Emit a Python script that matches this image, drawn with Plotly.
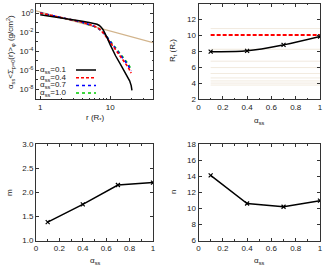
import plotly.graph_objects as go
import numpy as np

W, H = 335, 268

# ---- data ----
alpha = [0.1, 0.4, 0.7, 1.0]
alpha_labels = ["0.1", "0.4", "0.7", "1.0"]

r_01 = [1, 1.5, 2, 3, 4, 5, 6, 6.5, 7, 7.5, 8, 8.5, 9, 10, 11, 12, 14, 16, 18, 19, 20, 20.5]
s_01 = [-0.18, -0.36, -0.5, -0.7, -0.85, -0.98, -1.1, -1.18, -1.3, -1.5, -1.8, -2.15, -2.55, -3.3, -3.95, -4.5, -5.35, -6.05, -6.7, -7.1, -7.6, -8.1]
r_c = [1, 1.5, 2, 3, 4, 5, 6, 7, 7.5, 8, 9, 10, 12, 14, 16, 18, 20]
s_04 = [0.0, -0.25, -0.45, -0.75, -0.95, -1.15, -1.38, -1.65, -1.85, -2.1, -2.6, -3.05, -3.8, -4.45, -5.05, -5.65, -6.3]
s_07 = [0.02, -0.24, -0.45, -0.76, -0.97, -1.17, -1.4, -1.68, -1.86, -2.07, -2.52, -2.95, -3.68, -4.3, -4.88, -5.45, -6.05]
s_10 = [0.03, -0.24, -0.46, -0.78, -0.99, -1.2, -1.43, -1.7, -1.87, -2.05, -2.47, -2.88, -3.58, -4.18, -4.72, -5.27, -5.85]
r_pow = [0.87, 41]
s_pow = [0.24, -3.1]

Rt = [7.95, 8.05, 8.8, 9.85]
Rt_ref = [10.05, 10.05]
Rt_ref_a = [0.1, 1.0]
faint_levels = [10.85, 8.25, 6.75, 5.95, 5.2, 4.65, 4.27, 4.0, 3.75]

m_vals = [1.38, 1.75, 2.15, 2.2]
n_vals = [14.1, 10.6, 10.2, 10.95]

FONT = "Liberation Sans, Arial, sans-serif"
TF = dict(family=FONT, size=8, color="#222")

def px_x(p):
    return p / W

def px_y(p):
    return 1 - p / H

fig = go.Figure()

# ---- top-left ----
tl = dict(xaxis="x", yaxis="y")
fig.add_trace(go.Scatter(x=r_pow, y=[10**v for v in s_pow], mode="lines",
                         line=dict(color="#d2b48c", width=1.2), showlegend=False, **tl))
fig.add_trace(go.Scatter(x=r_c, y=[10**v for v in s_10], mode="lines",
                         line=dict(color="#00cc00", width=1.3, dash="dot"), showlegend=False, **tl))
fig.add_trace(go.Scatter(x=r_c, y=[10**v for v in s_07], mode="lines",
                         line=dict(color="#0000ff", width=1.6, dash="dot"), showlegend=False, **tl))
fig.add_trace(go.Scatter(x=r_c, y=[10**v for v in s_04], mode="lines",
                         line=dict(color="#ff0000", width=1.6, dash="3px,2px"), showlegend=False, **tl))
fig.add_trace(go.Scatter(x=r_01, y=[10**v for v in s_01], mode="lines",
                         line=dict(color="black", width=1.5), showlegend=False, **tl))

# legend (manual, text then sample on the right)
leg_colors = ["black", "#ff0000", "#0000ff", "#00cc00"]
leg_dash = ["solid", "3px,2px", "dot", "dot"]
leg_rows = [70, 77.7, 85.4, 93]
for lab, c, d, yy in zip(alpha_labels, leg_colors, leg_dash, leg_rows):
    fig.add_annotation(x=px_x(37.5), y=px_y(yy), xref="paper", yref="paper",
                       text="α<sub>ss</sub>=" + lab, showarrow=False,
                       xanchor="left", yanchor="middle", font=dict(family=FONT, size=8, color="#222"))
    fig.add_shape(type="line", xref="paper", yref="paper",
                  x0=px_x(76), x1=px_x(96), y0=px_y(yy), y1=px_y(yy),
                  line=dict(color=c, width=1.5, dash=d))

# ---- top-right ----
tr = dict(xaxis="x2", yaxis="y2")
for lv in faint_levels:
    fig.add_trace(go.Scatter(x=Rt_ref_a, y=[lv, lv], mode="lines",
                             line=dict(color="#ede4d7", width=0.8), showlegend=False, **tr))
fig.add_trace(go.Scatter(x=Rt_ref_a, y=Rt_ref, mode="lines",
                         line=dict(color="#ff0000", width=2, dash="4px,2px"), showlegend=False, **tr))
fig.add_trace(go.Scatter(x=alpha, y=Rt, mode="lines+markers", line_shape="spline",
                         line=dict(color="black", width=1.5),
                         marker=dict(symbol="x-thin", size=4, line=dict(width=1.2, color="black")),
                         showlegend=False, **tr))

# ---- bottom-left ----
fig.add_trace(go.Scatter(x=alpha, y=m_vals, mode="lines+markers",
                         line=dict(color="black", width=1.5),
                         marker=dict(symbol="x-thin", size=4, line=dict(width=1.2, color="black")),
                         showlegend=False, xaxis="x3", yaxis="y3"))
# ---- bottom-right ----
fig.add_trace(go.Scatter(x=alpha, y=n_vals, mode="lines+markers",
                         line=dict(color="black", width=1.5),
                         marker=dict(symbol="x-thin", size=4, line=dict(width=1.2, color="black")),
                         showlegend=False, xaxis="x4", yaxis="y4"))

common = dict(showline=True, linecolor="#333", linewidth=1, mirror="ticks", ticks="inside",
              ticklen=3, tickcolor="#333", showgrid=False, zeroline=False, tickfont=TF,
              automargin=False)
minor = dict(ticks="inside", ticklen=1.5, tickcolor="#333", showgrid=False)

xl = [px_x(36), px_x(153)]
xr = [px_x(198.5), px_x(320)]
yt = [px_y(99), px_y(3.5)]
yb = [px_y(240.5), px_y(144)]

fig.update_layout(
    width=W, height=H, margin=dict(l=0, r=0, t=0, b=0),
    paper_bgcolor="white", plot_bgcolor="white",
    xaxis=dict(domain=xl, type="log", range=[np.log10(0.87), np.log10(41)],
               tickvals=[1, 10], ticktext=["1", "10"], anchor="y",
               minor=dict(**minor, tickvals=[2, 3, 4, 5, 6, 7, 8, 9, 20, 30, 40]), **common),
    yaxis=dict(domain=yt, type="log", range=[-9, 1], anchor="x",
               tickvals=[1, 1e-2, 1e-4, 1e-6, 1e-8],
               ticktext=["10<sup>0</sup>", "10<sup>-2</sup>", "10<sup>-4</sup>", "10<sup>-6</sup>", "10<sup>-8</sup>"],
               minor=dict(**minor, tickvals=[10, 0.1, 1e-3, 1e-5, 1e-7, 1e-9]), **common),
    xaxis2=dict(domain=xr, range=[0, 1], tickvals=[0, 0.2, 0.4, 0.6, 0.8, 1],
                ticktext=["0", "0.2", "0.4", "0.6", "0.8", "1"], anchor="y2",
                minor=dict(**minor, dtick=0.1), **common),
    yaxis2=dict(domain=yt, range=[2, 14], dtick=2, anchor="x2", **common),
    xaxis3=dict(domain=xl, range=[0, 1], tickvals=[0, 0.2, 0.4, 0.6, 0.8, 1],
                ticktext=["0", "0.2", "0.4", "0.6", "0.8", "1"], anchor="y3",
                minor=dict(**minor, dtick=0.1), **common),
    yaxis3=dict(domain=yb, range=[1, 3], tickvals=[1, 1.5, 2, 2.5, 3],
                ticktext=["1.0", "1.5", "2.0", "2.5", "3.0"], anchor="x3", **common),
    xaxis4=dict(domain=xr, range=[0, 1], tickvals=[0, 0.2, 0.4, 0.6, 0.8, 1],
                ticktext=["0", "0.2", "0.4", "0.6", "0.8", "1"], anchor="y4",
                minor=dict(**minor, dtick=0.1), **common),
    yaxis4=dict(domain=yb, range=[6, 18], dtick=2, anchor="x4", **common),
)

titles = [
    (10, 52, "α<sub>ss</sub>&lt;Σ<sub>p=0</sub>(r)&gt;<sub>φ</sub> (g/cm<sup>2</sup>)", -90),
    (95, 118, "r (R<sub>*</sub>)", 0),
    (173, 51, "R<sub>t</sub> (R<sub>*</sub>)", -90),
    (259, 121, "α<sub>ss</sub>", 0),
    (9, 193, "m", -90),
    (95, 261, "α<sub>ss</sub>", 0),
    (173, 192, "n", -90),
    (259, 261, "α<sub>ss</sub>", 0),
]
for x, y, t, ang in titles:
    fig.add_annotation(x=px_x(x), y=px_y(y), xref="paper", yref="paper", text=t,
                       showarrow=False, textangle=ang, xanchor="center", yanchor="middle",
                       font=dict(family=FONT, size=8, color="#222"))

fig.write_html("out.html", config={"displayModeBar": False},
               post_script="document.body.style.margin='0';document.body.style.overflow='hidden';")
